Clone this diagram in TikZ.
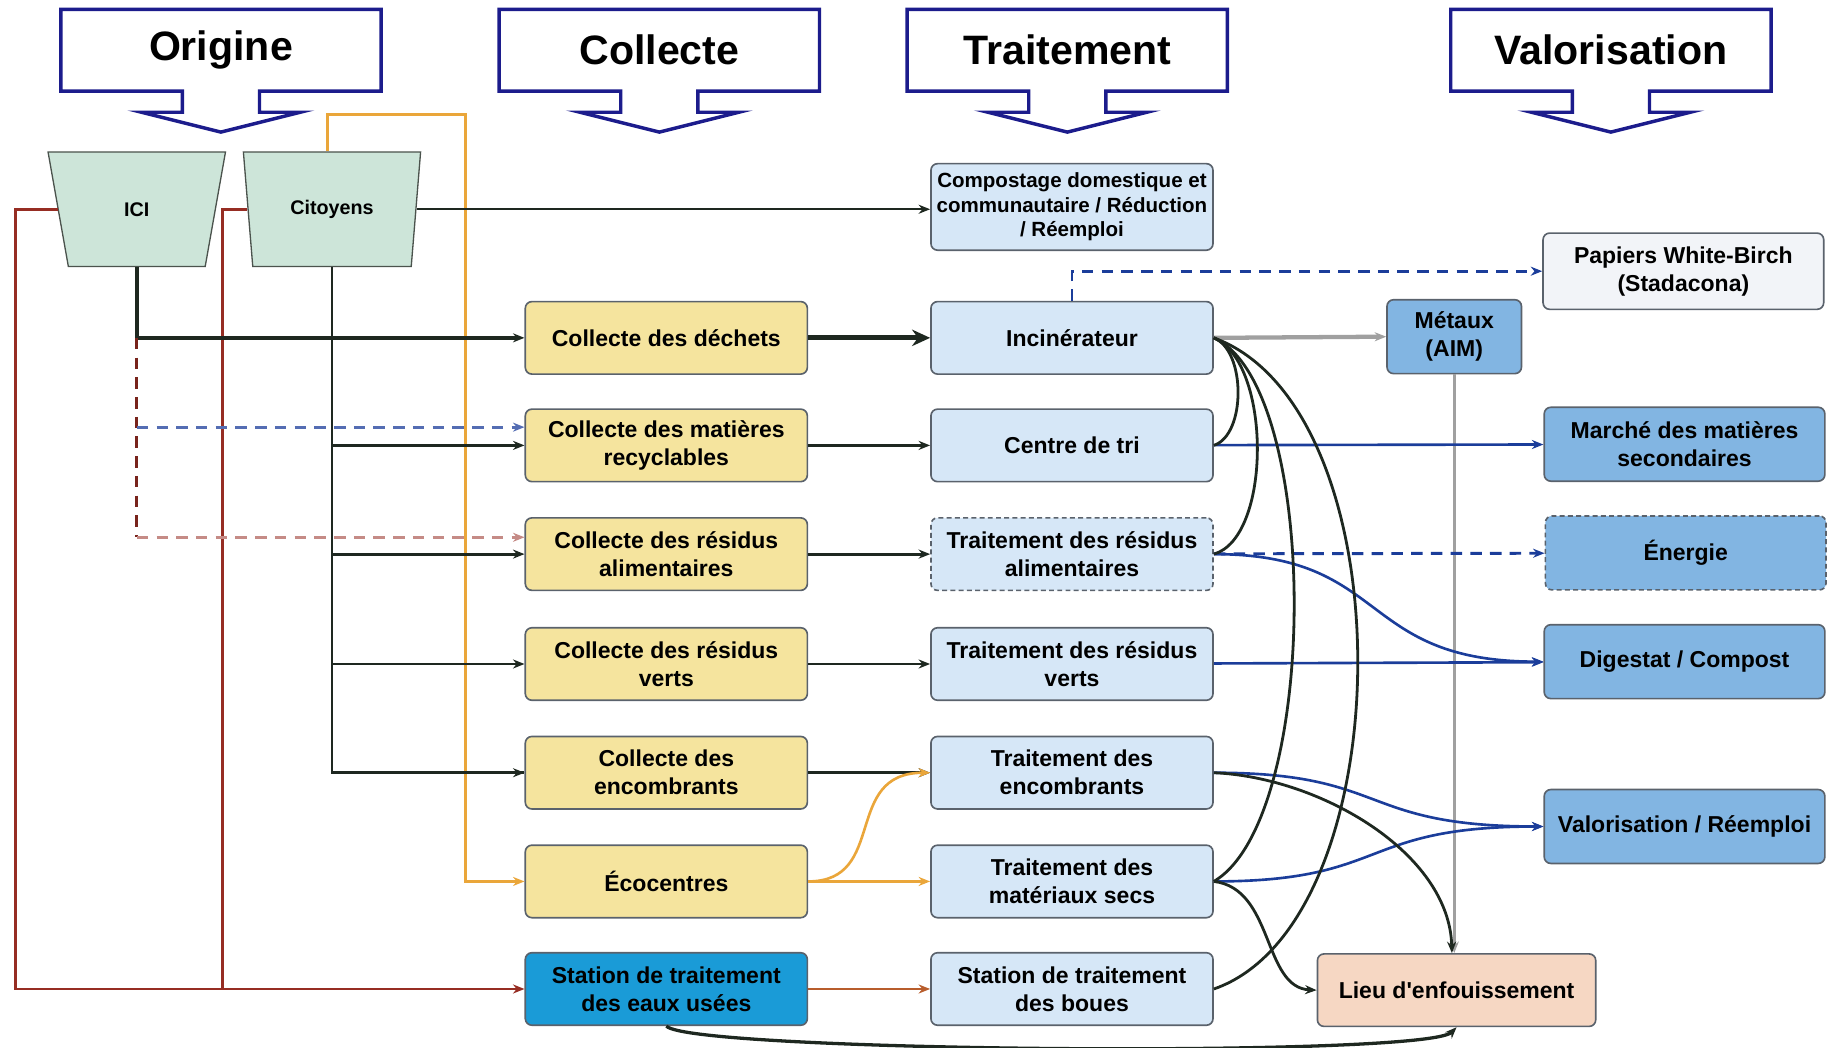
\documentclass[tikz,border=0pt]{standalone}
\usepackage{fontspec}
\setmainfont{Liberation Sans}
\usetikzlibrary{arrows.meta,shapes.geometric}

\definecolor{hdrblue}{RGB}{28,28,140}
\definecolor{trapfill}{RGB}{205,229,217}
\definecolor{collfill}{RGB}{245,228,158}
\definecolor{eaublue}{RGB}{26,155,215}
\definecolor{trtfill}{RGB}{214,231,247}
\definecolor{valfill}{RGB}{130,181,226}
\definecolor{papfill}{RGB}{242,244,248}
\definecolor{lieufill}{RGB}{246,215,195}
\definecolor{navyline}{RGB}{27,61,154}
\definecolor{greyline}{RGB}{160,160,160}
\definecolor{orline}{RGB}{234,166,58}
\definecolor{redline}{RGB}{150,45,35}
\definecolor{darkline}{RGB}{30,40,32}
\definecolor{bordgrey}{RGB}{90,98,108}

\tikzset{
  hdrline/.style={draw=hdrblue, line width=2.1pt, fill=white},
  hdrtxt/.style={font=\bfseries\fontsize{25}{28}\selectfont},
  trapbox/.style={trapezium, trapezium angle=75, shape border rotate=180,
    trapezium stretches=true, minimum width=3.8cm, minimum height=2.45cm,
    inner sep=0pt, draw=darkline!80, line width=.8pt, fill=trapfill,
    font=\bfseries\fontsize{12}{14}\selectfont},
  basebox/.style={rounded corners=4pt, draw=bordgrey, line width=1pt,
    align=center, inner sep=1pt, minimum width=6.03cm, minimum height=1.55cm},
  collbox/.style={basebox, fill=collfill},
  trtbox/.style={basebox, fill=trtfill},
  valbox/.style={basebox, fill=valfill, minimum width=6cm, minimum height=1.58cm},
  dashbox/.style={dash pattern=on 3pt off 2pt},
  longdash/.style={dash pattern=on 7pt off 5pt},
  blk/.style={draw=darkline, line width=1.7pt},
  nvl/.style={draw=navyline, line width=1.6pt},
  orl/.style={draw=orline, line width=1.6pt},
  rdl/.style={draw=redline, line width=1.7pt},
}

\begin{document}
\begin{tikzpicture}[x=0.025cm, y=-0.025cm, >={Stealth[length=7pt,width=5.5pt]},
    font=\bfseries\fontsize{14}{17}\selectfont]
\useasboundingbox (0,0) rectangle (1568,896);

% en-tetes
\foreach \cx/\nm/\txt in {189/ori/Origine, 564/coll/Collecte, 913/trt/Traitement, 1378/valo/Valorisation}{
  \draw[hdrline] (\cx-137,8) -- (\cx+137,8) -- (\cx+137,78) -- (\cx+33,78) -- (\cx+33,96)
    -- (\cx+68,96) -- (\cx,113) -- (\cx-68,96) -- (\cx-33,96) -- (\cx-33,78) -- (\cx-137,78) -- cycle;
  \node[hdrtxt] (h\nm) at (\cx,43) {\txt};
}

% origine
\node[trapbox] (ici) at (117,179) {ICI};
\node[trapbox] (cit) at (284,179) {Citoyens};

% collecte
\node[collbox] (cdech) at (570,289) {Collecte des déchets};
\node[collbox] (crec) at (570,381) {Collecte des matières\\recyclables};
\node[collbox] (calim) at (570,474) {Collecte des résidus\\alimentaires};
\node[collbox] (cvert) at (570,568) {Collecte des résidus\\verts};
\node[collbox] (cenc) at (570,661) {Collecte des\\encombrants};
\node[collbox] (eco) at (570,754) {Écocentres};
\node[collbox, fill=eaublue] (eau) at (570,846) {Station de traitement\\des eaux usées};

% traitement
\node[trtbox, minimum height=1.85cm, font=\bfseries\fontsize{12.5}{15}\selectfont] (comp) at (917,177)
  {Compostage domestique et\\communautaire / Réduction\\/ Réemploi};
\node[trtbox] (inc) at (917,289) {Incinérateur};
\node[trtbox] (tri) at (917,381) {Centre de tri};
\node[trtbox, dashbox] (talim) at (917,474) {Traitement des résidus\\alimentaires};
\node[trtbox] (tvert) at (917,568) {Traitement des résidus\\verts};
\node[trtbox] (tenc) at (917,661) {Traitement des\\encombrants};
\node[trtbox] (tmat) at (917,754) {Traitement des\\matériaux secs};
\node[trtbox] (boue) at (917,846) {Station de traitement\\des boues};

% valorisation
\node[valbox, fill=papfill, minimum height=1.63cm] (pap) at (1440,232) {Papiers White-Birch\\(Stadacona)};
\node[valbox, minimum width=2.875cm] (met) at (1244,288) {Métaux\\(AIM)};
\node[valbox] (mar) at (1441,380) {Marché des matières\\secondaires};
\node[valbox, dashbox] (ener) at (1442,473) {Énergie};
\node[valbox] (dig) at (1441,566) {Digestat / Compost};
\node[valbox] (valr) at (1441,707) {Valorisation / Réemploi};
\node[basebox, fill=lieufill, minimum width=5.95cm] (lieu) at (1246,847) {Lieu d\textquotesingle enfouissement};

\coordinate (rbas) at (13,846);
\coordinate (cbas) at (190,846);
\coordinate (orng) at (398,98);
\coordinate (rec1) at ([yshift=.39cm]crec.west);
\coordinate (alim1) at ([yshift=.36cm]calim.west);

% origine -> collecte
\draw[rdl] (cit.west) -| (cbas);
\draw[rdl,->] (ici.west) -| (rbas) -- (eau.west);
\draw[orl,->] ([xshift=-.1cm]cit.north) |- (orng) |- (eco.west);
\draw[blk,line width=1.4pt,->] (cit.east) -- (cit.east -| comp.west);
\draw[blk,line width=2.2pt,->] (ici.south) |- (cdech.west);
\draw[redline!80!black,line width=1.8pt,longdash] (ici.south |- cdech.west) -- (ici.south |- alim1);
\draw[navyline!75,line width=1.8pt,longdash,->] (ici.south |- rec1) -- (rec1);
\draw[redline!55,line width=1.8pt,longdash,->] (ici.south |- alim1) -- (alim1);
\draw[blk] (cit.south) |- (cenc.west);
\draw[blk,->] (cit.south |- crec.west) -- (crec.west);
\draw[blk,->] (cit.south |- calim.west) -- (calim.west);
\draw[blk,->] (cit.south |- cvert.west) -- (cvert.west);
\draw[blk,->] (cit.south |- cenc.west) -- (cenc.west);

% collecte -> traitement
\draw[blk,line width=3pt,-{Stealth[length=11pt,width=10pt]}] (cdech) -- (inc);
\draw[blk,line width=2.3pt,->] (crec) -- (tri);
\draw[blk,->] (calim) -- (talim);
\draw[blk,->] (cvert) -- (tvert);
\draw[blk,->] (cenc) -- (tenc);
\draw[orl,->] (eco) -- (tmat);
\draw[orl,->] (eco.east) .. controls (760,754) and (720,661) .. (tenc.west);
\draw[draw=redline!60!orline,line width=1.5pt,->] (eau) -- (boue);
\draw[blk,line width=2pt,->] (eau.south) .. controls (590,900) and (1220,905) .. (lieu.south);

% traitement -> valorisation
\draw[navyline,line width=1.8pt,longdash,->] (inc.north) |- (pap.west);
\draw[greyline,line width=2.6pt,->] (inc.east) -- (met.west);
\draw[greyline,line width=2pt,->] (met.south) -- (met.south |- lieu.north);
\draw[nvl,->] (tri) -- (mar);
\draw[nvl,longdash,line width=1.8pt,->] (talim) -- (ener);
\draw[nvl,->] (talim.east) .. controls (1190,474) and (1160,566) .. (dig.west);
\draw[nvl,->] (tvert) -- (dig);
\draw[nvl,->] (tenc.east) .. controls (1190,661) and (1160,707) .. (valr.west);
\draw[nvl,->] (tmat.east) .. controls (1190,754) and (1160,707) .. (valr.west);

% refus
\draw[blk] (inc.east) .. controls (1066,300) and (1066,372) .. (tri.east);
\draw[blk] (inc.east) .. controls (1088,310) and (1088,460) .. (talim.east);
\draw[blk] (inc.east) .. controls (1130,330) and (1130,700) .. (tmat.east);
\draw[blk] (inc.east) .. controls (1205,350) and (1200,790) .. (boue.east);
\draw[blk,->] (tenc.east) .. controls (1130,665) and (1240,730) .. ([xshift=-.1cm]lieu.north);
\draw[blk,->] (tmat.east) .. controls (1090,760) and (1080,845) .. (lieu.west);
\end{tikzpicture}
\end{document}
